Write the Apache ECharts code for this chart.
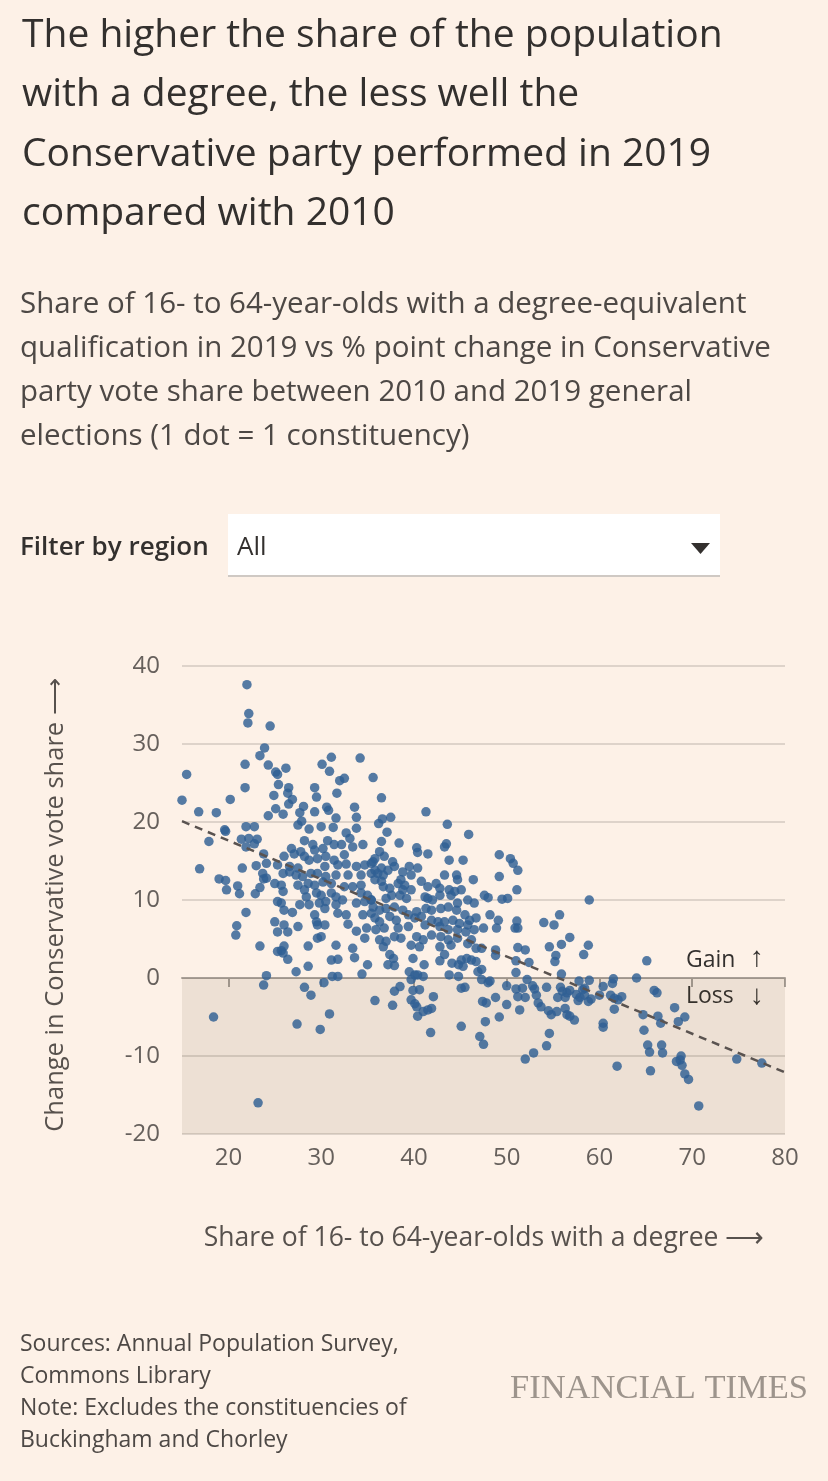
<!DOCTYPE html>
<html>
<head>
<meta charset="utf-8">
<script src="https://cdn.jsdelivr.net/npm/echarts@6/dist/echarts.min.js"></script>
<style>
html,body{margin:0;padding:0;background:#fdf1e7;}
#chart{width:828px;height:1481px;}
</style>
</head>
<body>
<div id="chart"></div>
<script>
// ---- data: [share with degree %, change in Conservative vote share (pp)] ----
const ptsUpper = [
[22.0,37.6],[22.2,33.9],[22.1,32.7],[24.5,32.3],[23.9,29.5],[23.4,28.5],[21.8,27.4],[15.5,26.1],[24.3,27.3],[25.1,26.4],[25.3,26.1],[26.2,26.9],[30.1,27.4],[31.1,28.3],[30.9,26.5],[25.4,24.8],[26.5,24.4],[26.4,23.7],[21.8,24.4],[24.9,23.4],[26.9,22.9],[26.5,22.3],[15.0,22.8],[20.2,22.9],[16.8,21.3],[18.7,21.2],[25.1,21.7],[25.9,21.0],[24.3,20.8],[28.1,22.0],[27.7,21.2],[29.3,24.4],[29.5,23.2],[29.3,21.3],[30.6,21.9],[30.8,21.5],[27.9,20.1],[21.9,19.4],[22.8,19.4],[19.6,19.0],
[34.2,28.2],[32.0,25.3],[32.5,25.6],[35.6,25.7],[31.7,23.7],[36.5,23.1],[41.3,21.3],[33.6,21.9],[33.8,20.6],[31.6,20.5],[36.6,20.4],[37.5,20.6],[36.2,19.8],[43.6,19.7],[45.9,18.4],[37.1,18.7]
];
const ptsLeft = [
[19.7,18.8],[17.9,17.5],[21.4,17.8],[22.2,17.9],[23.1,17.8],[21.9,16.8],[22.8,17.2],[23.8,15.9],[23.0,14.4],[21.5,14.1],[16.9,14.0],[23.7,13.4],[23.8,12.7],[19.0,12.7],[19.7,12.5],[21.0,11.8],[19.8,11.3],[21.2,10.8],[23.4,11.6],[22.9,10.8],[21.9,8.4],[20.9,6.7],[20.8,5.5],[23.4,4.1],[24.1,0.3],[23.8,-0.9],[18.4,-5.0],[23.2,-16.0]
];
const ptsCoreA = [
[27.5,19.6],[28.7,19.1],[30.0,19.4],[31.3,19.3],[32.7,18.6],[33.8,19.2],
[28.2,17.6],[29.1,17.1],[30.7,17.6],[32.2,17.1],[33.1,17.9],[33.4,16.8],[34.5,17.1],[26.8,16.6],[27.8,16.2],[29.3,16.4],[30.2,16.6],[31.4,17.1],
[24.1,14.7],[25.3,14.5],[26.0,15.6],[27.1,15.9],[28.2,15.6],[28.7,15.1],[29.6,15.3],[30.5,15.6],[31.4,15.1],[32.5,15.8],[32.7,14.6],[33.8,14.3],[34.7,14.5],[35.6,14.9],[26.6,14.3],[27.5,14.1],[30.4,14.3],[31.8,14.5],
[24.1,12.8],[25.9,13.4],[26.6,13.6],[27.3,13.2],[28.0,13.0],[28.9,13.4],[29.6,13.4],[30.5,13.0],[31.6,13.2],[32.9,13.2],[34.3,13.2],[35.4,13.4],[25.0,12.1],[25.7,11.9],[27.5,11.9],[28.6,12.1],[29.3,11.9],[30.2,12.3],[31.1,12.1],[32.5,11.7],[33.4,11.7],[34.3,11.9],
[25.9,11.1],[28.2,11.3],[28.4,10.4],[29.5,10.9],[30.0,10.6],[31.1,10.9],[31.6,10.4],[32.3,10.0],[34.3,10.9],[35.0,10.6],[25.3,9.8],[25.7,9.6],[27.7,9.4],[28.7,9.4],[29.8,9.6],[30.5,9.8],[31.6,9.4],[33.8,9.6],[34.7,9.8],[35.4,10.0],
[26.0,8.7],[26.9,8.4],[29.3,8.1],[30.4,8.9],[31.8,8.3],[32.7,8.1],[34.5,8.1],[35.4,8.3],[25.0,7.2],[26.0,6.8],[27.5,6.6],[29.5,7.2],[29.6,6.8],[30.4,6.8],[32.9,6.9],[33.8,6.0],[34.9,6.4],[25.3,5.9],[26.4,5.9]
];
const ptsCoreB = [
[36.5,17.5],[38.4,17.3],[40.3,16.7],[40.4,16.1],[41.5,15.9],[43.3,16.8],[43.5,17.2],[43.8,15.1],[45.3,15.1],
[36.3,16.2],[36.8,15.6],[35.8,15.3],[35.4,14.7],[37.7,14.9],[37.9,14.3],[37.2,13.8],[36.5,14.1],[35.8,13.8],[36.1,13.4],[36.7,13.2],[39.5,14.3],[40.4,14.1],[38.8,13.6],[39.7,13.2],
[35.8,12.6],[36.5,12.4],[36.7,11.7],[37.4,11.5],[38.3,12.1],[38.6,12.6],[39.0,11.9],[38.8,11.3],[39.7,11.3],[40.8,12.4],[41.5,11.7],[42.4,12.1],[42.8,11.5],[43.3,13.2],[44.6,13.2],[44.7,12.6],[43.8,11.3],[44.4,11.1],[45.1,11.3],[46.4,12.6],
[35.4,10.0],[37.0,10.2],[37.6,10.6],[38.5,10.6],[39.2,10.2],[41.2,10.4],[41.5,10.2],[42.0,10.0],[42.8,10.6],[44.0,10.6],[44.7,9.6],[45.8,10.0],[46.5,9.6],
[35.6,9.1],[36.3,8.7],[37.0,8.9],[37.9,9.1],[38.8,8.7],[40.3,8.5],[41.3,8.9],[41.9,8.7],[42.9,8.9],[43.7,9.1],[44.6,8.7],[45.5,8.1],[46.0,7.4],[46.7,7.7],
[35.8,7.7],[36.3,7.2],[37.4,7.9],[38.1,7.4],[39.4,8.1],[40.1,7.7],[40.8,7.9],[41.9,7.4],[42.6,7.2],[43.3,7.2],[44.2,7.4],[44.9,7.0],[45.8,6.8],[46.5,6.2],
[35.9,6.2],[36.8,6.4],[38.3,6.4],[39.4,6.6],[41.2,6.8],[42.8,6.6],[43.7,6.2],[44.7,6.2],[45.6,5.9],[46.2,4.9],
[36.3,4.9],[37.0,4.7],[37.9,5.3],[38.6,5.1],[40.3,5.3],[41.0,4.9],[41.9,5.5],[42.9,5.3],[43.7,4.9],[44.7,5.1],[45.8,4.4],[46.7,3.8],
[36.7,4.0],[39.7,4.2],[40.6,4.0],[42.8,4.0],[44.0,4.2]
];
const ptsLow = [
[26.0,4.1],[25.7,3.5],[25.3,3.4],[25.9,3.2],[26.4,2.4],[28.6,4.1],[28.6,1.5],[27.3,0.8],[31.1,2.3],[30.3,-0.6],[28.2,-1.2],[29.6,5.1],[30.0,5.3],[28.9,-2.2],[27.4,-5.9],[29.9,-6.6],[30.9,-4.6],
[31.6,4.2],[33.4,3.8],[33.6,2.6],[31.8,2.4],[35.0,1.7],[37.2,1.7],[37.9,1.6],[37.4,3.0],[37.8,2.5],[34.4,0.5],[31.2,0.2],[31.8,0.2],[39.9,2.5],[39.5,0.8],[40.1,0.4],[39.7,-0.2],[40.4,0.4],[41.0,0.2],[41.1,1.7],
[38.5,-1.1],[37.9,-1.7],[37.7,-3.5],[39.9,-1.6],[40.6,-1.5],[39.7,-2.8],[40.1,-3.3],[40.3,-3.7],[41.0,-4.3],[40.4,-4.9],[41.5,-4.1],[41.9,-3.9],[42.1,-2.4],[35.8,-2.9],[41.8,-7.0],[45.1,-6.2],[45.1,-1.3],[45.5,-1.2],[47.1,-7.5],
[43.3,3.0],[42.8,2.2],[44.1,1.9],[44.8,1.7],[45.1,2.3],[45.7,2.5],[46.2,2.3],[46.7,2.1],[46.9,0.8],[43.8,0.4],[44.8,0.2],[45.3,1.5],[34.7,5.1]
];
const ptsRight = [
[49.2,15.8],[50.4,15.3],[50.7,14.7],[51.2,13.8],[49.2,13.0],[51.1,11.3],[47.6,10.6],[48.0,10.3],[49.5,10.1],[50.1,10.2],[58.9,10.0],[48.2,8.1],[49.1,7.4],[47.5,6.4],[48.9,6.4],[51.1,7.3],[50.9,6.4],[51.2,6.4],[54.0,7.1],[55.1,6.8],[55.7,8.1],[56.8,5.2],[54.6,4.0],[55.9,4.3],[58.8,4.2],[58.3,3.0],[55.3,2.9],[51.2,3.9],[52.0,3.6],[47.3,3.8],[48.8,3.6],[48.8,2.9],
[51.0,2.2],[52.4,2.0],[55.2,2.1],[47.3,1.1],[47.3,-0.2],[48.0,-0.6],[48.2,-0.4],[51.0,0.7],[52.2,-0.2],[55.9,0.5],[50.0,-1.0],[51.0,-1.4],[51.2,-2.4],[52.0,-2.5],[51.7,-1.3],[52.8,-1.0],[53.0,-1.4],[53.2,-2.2],[54.3,-1.2],[55.8,-1.2],[56.0,-1.7],[56.8,-1.6],[56.5,-1.9],[55.5,-2.5],[56.3,-2.5],[57.8,-0.4],[58.9,-0.3],[58.4,-1.3],[58.2,-1.5],[60.4,-1.1],[61.5,-0.1],[61.4,-0.7],[61.2,-2.2],[61.6,-2.6],[62.4,-2.4],[62.0,-2.8],[57.5,-2.1],[57.9,-2.5],[58.4,-2.2],[58.8,-3.0],[59.1,-2.7],[57.7,-2.9],[60.0,-2.2],[61.6,-4.0],
[47.4,-3.0],[47.8,-3.2],[48.8,-2.5],[50.0,-3.4],[51.4,-4.1],[53.4,-3.2],[53.7,-3.7],[54.5,-4.2],[54.8,-4.7],[55.4,-4.3],[56.3,-3.9],[56.5,-4.7],[56.8,-4.9],[57.3,-5.4],[60.4,-5.8],[60.4,-6.3],[49.2,-5.0],[47.7,-5.6],[47.5,-8.5],[54.6,-7.1],[54.3,-8.7],[52.9,-9.6],[52.0,-10.4],[61.9,-11.3]
];
const ptsFarRight = [
[65.1,2.2],[64.0,0.0],[65.9,-1.6],[66.2,-1.9],[64.7,-4.7],[66.3,-4.9],[66.6,-5.8],[68.1,-3.8],[69.2,-5.0],[68.5,-5.6],[64.8,-6.7],[65.2,-8.6],[65.4,-9.5],[66.7,-8.6],[66.8,-9.6],[68.3,-10.7],[68.7,-10.5],[68.8,-10.0],[68.9,-11.2],[69.2,-12.3],[69.6,-13.0],[65.5,-11.9],[70.7,-16.4],[74.8,-10.4],[77.5,-10.9]
];
// trend line end points
const trendX = [15, 80];
const trendY = [20.1, -12.1];
// axis ticks
const xTicks = [20, 30, 40, 50, 60, 70, 80];
const yMin = -20, yMax = 40, yStep = 10;
const xMin = 15, xMax = 80;

const titleText = "The higher the share of the population\nwith a degree, the less well the\nConservative party performed in 2019\ncompared with 2010";
const subText = "Share of 16- to 64-year-olds with a degree-equivalent\nqualification in 2019 vs % point change in Conservative\nparty vote share between 2010 and 2019 general\nelections (1 dot = 1 constituency)";
const footText = "Sources: Annual Population Survey,\nCommons Library\nNote: Excludes the constituencies of\nBuckingham and Chorley";

const allPts = [].concat(ptsUpper, ptsLeft, ptsCoreA, ptsCoreB, ptsLow, ptsRight, ptsFarRight);
const FONT = "'Open Sans', 'Noto Sans', sans-serif";

const chart = echarts.init(document.getElementById('chart'), null, {renderer: 'canvas'});
chart.setOption({
  backgroundColor: '#fdf1e7',
  animation: false,
  grid: {left: 182, right: 43, top: 666, bottom: 347, containLabel: false},
  xAxis: {
    type: 'value', min: xMin, max: xMax,
    axisLine: {show: true, lineStyle: {color: '#a89f97', width: 2}},
    axisTick: {show: true, customValues: xTicks, length: 9, lineStyle: {color: '#a89f97', width: 2}},
    axisLabel: {customValues: xTicks, fontSize: 24, color: '#66605c', fontFamily: FONT, margin: 12},
    splitLine: {show: false}
  },
  yAxis: {
    type: 'value', min: yMin, max: yMax, interval: yStep,
    axisLine: {show: false}, axisTick: {show: false},
    axisLabel: {fontSize: 24, color: '#66605c', fontFamily: FONT, margin: 22},
    splitLine: {show: true, lineStyle: {color: '#d3c9c0', width: 1.5}}
  },
  series: [
    {
      type: 'scatter',
      data: allPts,
      symbolSize: 9.5,
      itemStyle: {color: '#2f5f94', opacity: 0.82},
      markArea: {
        silent: true,
        itemStyle: {color: 'rgba(80,50,25,0.09)'},
        data: [[{coord: [xMin, 0]}, {coord: [xMax, yMin]}]]
      },
      z: 2
    },
    {
      type: 'line',
      data: trendX.map((x, i) => [x, trendY[i]]),
      symbol: 'none',
      lineStyle: {color: '#5a5350', width: 2.5, type: [8, 6]},
      z: 3
    }
  ],
  graphic: [
    {type: 'text', x: 22, y: 6, style: {text: titleText, fontSize: 39, fontFamily: FONT, fill: '#33302e', lineHeight: 59.5, align: 'left', verticalAlign: 'top'}},
    {type: 'text', x: 20, y: 283, style: {text: subText, fontSize: 29.5, fontFamily: FONT, fill: '#4d4845', lineHeight: 44, align: 'left', verticalAlign: 'top'}},
    {type: 'text', x: 20, y: 548, style: {text: 'Filter by region', fontSize: 26, fontWeight: 600, fontFamily: FONT, fill: '#33302e', align: 'left', verticalAlign: 'middle'}},
    {type: 'rect', shape: {x: 228, y: 514, width: 492, height: 63}, style: {fill: '#ffffff'}},
    {type: 'rect', shape: {x: 228, y: 575, width: 492, height: 2}, style: {fill: '#cfc9c4'}},
    {type: 'text', x: 237, y: 548, style: {text: 'All', fontSize: 26, fontFamily: FONT, fill: '#33302e', align: 'left', verticalAlign: 'middle'}},
    {type: 'polygon', shape: {points: [[691, 543], [710, 543], [700.5, 554]]}, style: {fill: '#33302e'}},
    {type: 'text', x: 56, y: 905, rotation: Math.PI / 2, style: {text: 'Change in Conservative vote share \u27F6', fontSize: 25.5, fontFamily: FONT, fill: '#57514d', align: 'center', verticalAlign: 'middle'}},
    {type: 'text', x: 484, y: 1238, style: {text: 'Share of 16- to 64-year-olds with a degree \u27F6', fontSize: 26.5, fontFamily: FONT, fill: '#57514d', align: 'center', verticalAlign: 'middle'}},
    {type: 'text', x: 686, y: 960, style: {text: 'Gain', fontSize: 23, fontFamily: FONT, fill: '#33302e', align: 'left', verticalAlign: 'middle'}},
    {type: 'text', x: 757, y: 958, style: {text: '\u2191', fontSize: 28, fontFamily: FONT, fill: '#33302e', align: 'center', verticalAlign: 'middle'}},
    {type: 'text', x: 686, y: 996, style: {text: 'Loss', fontSize: 23, fontFamily: FONT, fill: '#33302e', align: 'left', verticalAlign: 'middle'}},
    {type: 'text', x: 757, y: 996, style: {text: '\u2193', fontSize: 28, fontFamily: FONT, fill: '#33302e', align: 'center', verticalAlign: 'middle'}},
    {type: 'text', x: 20, y: 1328, style: {text: footText, fontSize: 23, fontFamily: FONT, fill: '#4d4845', lineHeight: 32, align: 'left', verticalAlign: 'top'}},
    {type: 'text', x: 808, y: 1389, style: {text: 'FINANCIAL TIMES', fontSize: 34.5, fontFamily: "'Liberation Serif', 'DejaVu Serif', serif", fill: '#9d948c', align: 'right', verticalAlign: 'middle'}}
  ]
});
</script>
</body>
</html>
